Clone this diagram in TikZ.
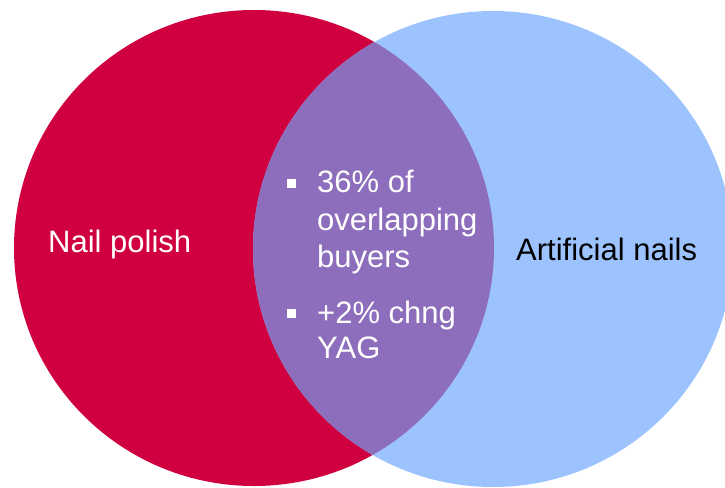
\documentclass[tikz,border=0pt]{standalone}
\usepackage{fontspec}
\setmainfont{Liberation Sans}
\definecolor{polishred}{RGB}{208,0,64}
\definecolor{nailblue}{RGB}{157,195,255}
\definecolor{overlap}{RGB}{140,110,188}
\tikzset{
  lbl/.style={anchor=base west, inner sep=0pt, font=\fontsize{31}{37.5}\selectfont},
  bul/.style={anchor=north west, inner sep=0pt, align=left, font=\fontsize{31}{37.5}\selectfont, text=white},
  sq/.style={fill=white, draw=none}
}
\begin{document}
\begin{tikzpicture}[x=1pt,y=-1pt]
\useasboundingbox (0,0) rectangle (725,487);
\fill[polishred] (254,248) ellipse [x radius=240, y radius=238];
\fill[nailblue] (493,249) ellipse [x radius=240, y radius=238];
\begin{scope}
  \clip (254,248) ellipse [x radius=240, y radius=238];
  \fill[overlap] (493,249) ellipse [x radius=240, y radius=238];
\end{scope}
\node[lbl, text=white] (np) at (48,252) {Nail polish};
\node[lbl, text=black] (an) at (516,260) {Artificial nails};
\node[lbl, text=white] (b1a) at (317,192) {36\% of};
\node[lbl, text=white] (b1b) at (317,230) {overlapping};
\node[lbl, text=white] (b1c) at (317,267) {buyers};
\node[lbl, text=white] (b2a) at (317,323) {+2\% chng};
\node[lbl, text=white] (b2b) at (317,358) {YAG};
\fill[sq] (287,179) rectangle (296,188);
\fill[sq] (287,309) rectangle (296,318);
\end{tikzpicture}
\end{document}
